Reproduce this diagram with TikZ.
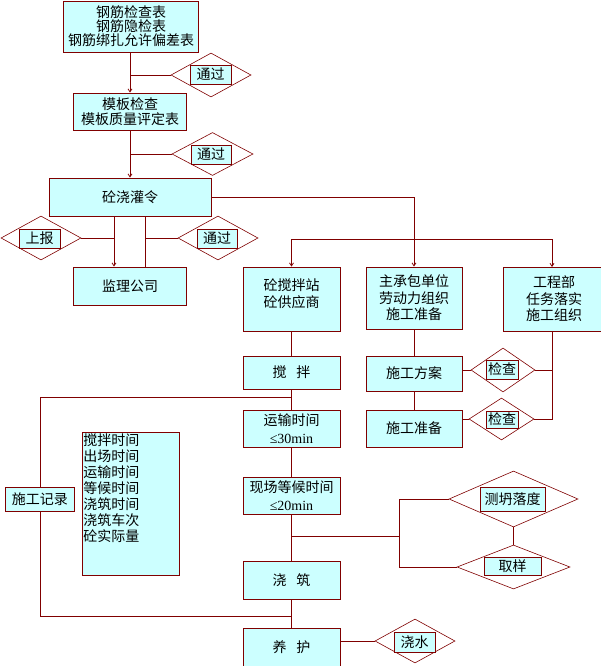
\documentclass[tikz,border=0pt]{standalone}
\usepackage{fontspec}
\newfontfamily\cjk{Noto Sans CJK SC}
\newfontfamily\lser{Liberation Serif}
\usetikzlibrary{shapes.geometric,arrows.meta}
\definecolor{bd}{HTML}{800000}
\definecolor{cy}{HTML}{CCFFFF}
\tikzset{
  box/.style={draw=bd, fill=cy, line width=0.8pt, inner sep=0pt, align=center,
    font=\cjk\fontsize{14}{16}\selectfont},
  dia/.style={diamond, draw=bd, fill=white, line width=0.6pt, inner sep=0pt},
  tagbox/.style={box},
  ln/.style={draw=bd, line width=0.8pt},
  arr/.style={ln, -{Straight Barb[length=3pt,width=4pt]}},
}
\begin{document}
\begin{tikzpicture}[x=1pt,y=-1pt]
\fill[white] (0,0) rectangle (600,666);
\useasboundingbox (0,0) rectangle (600,666);

% boxes
\node[box, minimum width=135pt, minimum height=51pt, font=\cjk\fontsize{14}{14}\selectfont] (b1) at (131,26.5) {钢筋检查表\\钢筋隐检表\\钢筋绑扎允许偏差表};
\node[box, minimum width=113pt, minimum height=37pt, font=\cjk\fontsize{14}{15}\selectfont] (b2) at (130,111.5) {模板检查\\模板质量评定表};
\node[box, minimum width=162pt, minimum height=38pt] (b3) at (130,197) {砼浇灌令};
\node[box, minimum width=113pt, minimum height=38pt] (jl) at (130,286) {监理公司};
\node[box, minimum width=97pt, minimum height=64pt, font=\cjk\fontsize{14}{17}\selectfont] (mix) at (291.5,299) {砼搅拌站\\砼供应商\\[-5pt]~};
\node[box, minimum width=96pt, minimum height=62pt, font=\cjk\fontsize{14}{16.5}\selectfont] (main) at (414,298) {主承包单位\\劳动力组织\\施工准备};
\node[box, minimum width=102pt, minimum height=64pt, font=\cjk\fontsize{14}{16.5}\selectfont] (gcb) at (554,299) {工程部\\任务落实\\施工组织};
\node[box, minimum width=97pt, minimum height=33pt] (jb) at (291.5,372.5) {搅\hspace{0.7em}拌};
\node[box, minimum width=96pt, minimum height=35pt] (fa) at (414,373.5) {施工方案};
\node[box, minimum width=97pt, minimum height=37pt, font=\cjk\fontsize{14}{18}\selectfont] (ys) at (291.5,428.5) {运输时间\\{\lser ≤30min}};
\node[box, minimum width=96pt, minimum height=37pt] (zb) at (414,428.5) {施工准备};
\node[box, minimum width=97pt, minimum height=37pt, font=\cjk\fontsize{14}{18}\selectfont] (dh) at (291.5,495.5) {现场等候时间\\{\lser ≤20min}};
\node[box, minimum width=97pt, minimum height=38pt] (jz) at (291.5,580) {浇\hspace{0.7em}筑};
\node[box, minimum width=97pt, minimum height=38pt] (yh) at (291.5,647) {养\hspace{0.7em}护};
\node[box, minimum width=69pt, minimum height=24pt] (sg) at (40,499) {施工记录};
\node[box, minimum width=97pt, minimum height=143pt] (info) at (130.5,503.5) {};
\node[anchor=north west, inner sep=1.5pt, align=left, font=\cjk\fontsize{14}{16}\selectfont] (infotext) at (info.north west) {搅拌时间\\出场时间\\运输时间\\等候时间\\浇筑时间\\浇筑车次\\砼实际量};

% diamonds
\node[dia, minimum width=80pt, minimum height=44pt] (d1) at (211,75) {};
\node[tagbox, minimum width=41pt, minimum height=19pt] (t1) at (210.5,74.5) {通过};
\node[dia, minimum width=81pt, minimum height=43pt] (d2) at (212.5,154) {};
\node[tagbox, minimum width=40pt, minimum height=19pt] (t2) at (211,154.5) {通过};
\node[dia, minimum width=80pt, minimum height=44pt] (d3) at (41,238) {};
\node[tagbox, minimum width=41pt, minimum height=19pt] (t3) at (39.5,238.5) {上报};
\node[dia, minimum width=80pt, minimum height=44pt] (d4) at (218,238) {};
\node[tagbox, minimum width=40pt, minimum height=19pt] (t4) at (217,238.5) {通过};
\node[dia, minimum width=64pt, minimum height=44pt] (d5) at (503,370) {};
\node[tagbox, minimum width=32pt, minimum height=19pt] (t5) at (502,369.5) {检查};
\node[dia, minimum width=65pt, minimum height=42pt] (d6) at (501.5,419) {};
\node[tagbox, minimum width=32pt, minimum height=17pt] (t6) at (502,419.5) {检查};
\node[dia, minimum width=129pt, minimum height=56pt] (d7) at (513.5,499) {};
\node[tagbox, minimum width=65pt, minimum height=24pt] (t7) at (512.5,499) {测坍落度};
\node[dia, minimum width=113pt, minimum height=44pt] (d8) at (513.5,567) {};
\node[tagbox, minimum width=57pt, minimum height=18pt] (t8) at (512.5,566) {取样};
\node[dia, minimum width=80pt, minimum height=44pt] (d9) at (415,641) {};
\node[tagbox, minimum width=41pt, minimum height=20pt] (t9) at (414.5,642) {浇水};

% connectors
\draw[arr] (b1.south -| b2.north) -- (b2.north);
\draw[ln] (d1.west) -- (d1.west -| b2.north);
\draw[arr] (b2.south) -- (b3.north);
\draw[ln] (d2.west) -- (d2.west -| b3.north);
\coordinate (sL) at ([xshift=-16pt]b3.south);
\coordinate (sR) at ([xshift=15pt]b3.south);
\draw[arr] (sL) -- (sL |- jl.north);
\draw[ln] (sR) -- (sR |- jl.north);
\draw[ln] (d3.east) -- (d3.east -| sL);
\draw[ln] (d4.west) -- (d4.west -| sR);
\draw[arr] (b3.east) -| (main.north);
\coordinate (split) at (414,239);
\coordinate (gtop) at (552,267);
\draw[arr] (split) -| (mix.north);
\draw[arr] (split) -| (gtop);
\draw[ln] (mix.south) -- (jb.north);
\draw[ln] (jb.south) -- (ys.north);
\draw[ln] (ys.south) -- (dh.north);
\draw[ln] (dh.south) -- (jz.north);
\draw[ln] (jz.south) -- (yh.north);
\draw[ln] (main.south) -- (fa.north);
\draw[ln] (fa.south) -- (zb.north);
\coordinate (gbot) at (552,331);
\draw[ln] (fa.east |- d5.west) -- (d5.west);
\draw[ln] (d5.east) -- (d5.east -| gbot);
\draw[ln] (gbot) |- (d6.east);
\draw[ln] (zb.east |- d6.west) -- (d6.west);
\coordinate (lp1) at (291.5,397);
\coordinate (lp2) at (291.5,616);
\draw[ln] (lp1) -| (sg.north);
\draw[ln] (sg.south) |- (lp2);
\coordinate (br) at (291.5,536);
\coordinate (br2) at (399,536);
\draw[ln] (br) -- (br2);
\draw[ln] (d7.west) -| (br2);
\draw[ln] (br2) |- (d8.west);
\draw[ln] (d7.south) -- (d8.north);
\draw[ln] (d9.west) -- (d9.west -| yh.east);
\end{tikzpicture}
\end{document}
